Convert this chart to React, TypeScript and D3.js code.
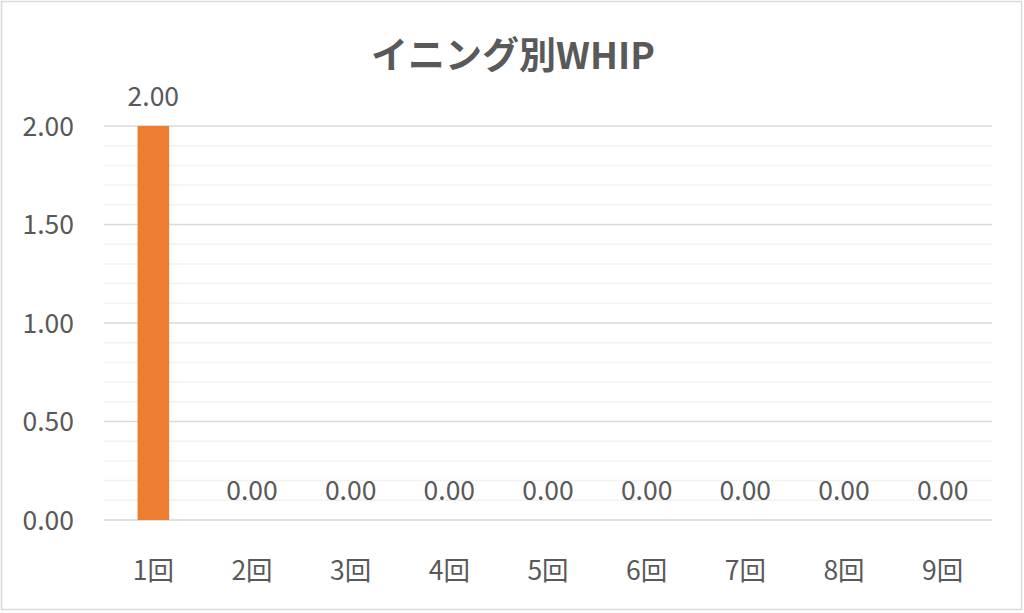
import { useEffect, useRef } from 'react';
import * as d3 from 'd3';

// inning labels and WHIP values
const innings = ['1回', '2回', '3回', '4回', '5回', '6回', '7回', '8回', '9回'];
const whip = [2.0, 0, 0, 0, 0, 0, 0, 0, 0];
const majorTicks = [0, 0.5, 1.0, 1.5, 2.0];
const minorTicks = [0.1, 0.2, 0.3, 0.4, 0.6, 0.7, 0.8, 0.9, 1.1, 1.2, 1.3, 1.4, 1.6, 1.7, 1.8, 1.9];

const FONT = '"Noto Sans CJK JP", "Noto Sans", sans-serif';
const TEXT = '#595959';
const LABEL_SIZE = 26.5;

export default function App() {
  const width = 1024;
  const height = 613;
  const marginLeft = 104;
  const marginRight = 32;
  const marginTop = 126;
  const plotBottom = 520;

  const x = d3.scaleBand<string>()
    .domain(innings)
    .range([marginLeft, width - marginRight])
    .paddingInner(0.68)
    .paddingOuter(0.34);

  const y = d3.scaleLinear().domain([0, 2]).range([plotBottom, marginTop]);

  const gy = useRef<SVGGElement>(null);

  useEffect(() => {
    if (gy.current) {
      const g = d3.select(gy.current);
      g.call(d3.axisLeft(y).tickValues(majorTicks).tickFormat(d3.format('.2f')).tickSize(0).tickPadding(30));
      g.select('.domain').remove();
      g.selectAll('text').attr('font-size', LABEL_SIZE).attr('font-family', FONT).attr('fill', TEXT).attr('dy', '0.35em');
    }
  }, [gy, y]);

  return (
    <svg width={width} height={height} style={{ position: 'absolute', left: 0, top: 0, background: '#fff' }}>
      <rect x={1.5} y={1.5} width={width - 4} height={height - 5} fill="#fff" stroke="#D9D9D9" strokeWidth={1.5} />
      <text x={513} y={69} textAnchor="middle" fontFamily={FONT} fontWeight="bold" fontSize={37} fill={TEXT}>
        イニング別WHIP
      </text>

      {minorTicks.map(t => (
        <line key={'m' + t} x1={marginLeft} x2={width - marginRight} y1={y(t)} y2={y(t)} stroke="#F2F2F2" strokeWidth={1.5} />
      ))}
      {majorTicks.map(t => (
        <line key={'M' + t} x1={marginLeft} x2={width - marginRight} y1={y(t)} y2={y(t)} stroke="#D9D9D9" strokeWidth={1.5} />
      ))}

      {innings.map((d, i) => (
        <g key={d}>
          <rect x={x(d)} y={y(whip[i])} width={x.bandwidth()} height={y(0) - y(whip[i])} fill="#ED7D31" />
          <text
            x={(x(d) ?? 0) + x.bandwidth() / 2}
            y={y(whip[i]) - 20}
            textAnchor="middle"
            fontFamily={FONT}
            fontSize={LABEL_SIZE}
            fill={TEXT}
          >
            {whip[i].toFixed(2)}
          </text>
          <text
            x={(x(d) ?? 0) + x.bandwidth() / 2}
            y={580}
            textAnchor="middle"
            fontFamily={FONT}
            fontSize={LABEL_SIZE}
            fill={TEXT}
          >
            {d}
          </text>
        </g>
      ))}

      <g ref={gy} transform={`translate(${marginLeft},0)`}></g>
    </svg>
  );
}
